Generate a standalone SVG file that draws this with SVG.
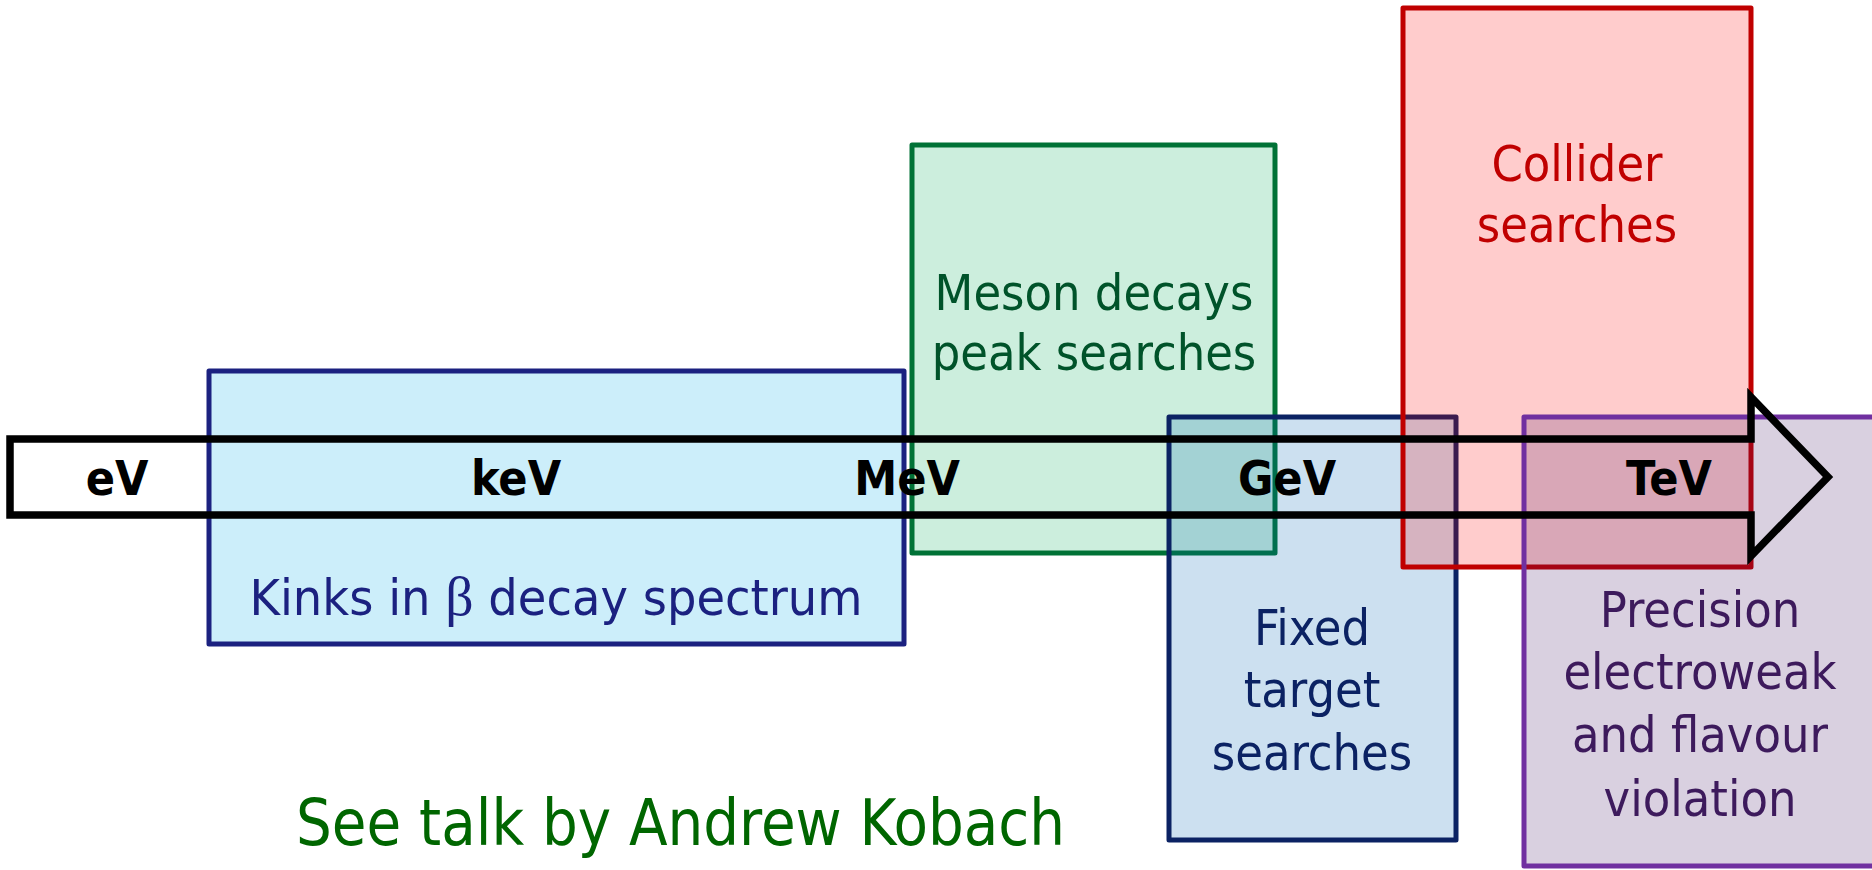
<svg xmlns="http://www.w3.org/2000/svg" width="1872" height="870" viewBox="0 0 1872 870">
<style>
.box{stroke-width:5;stroke-linejoin:round}
.t{font-family:"DejaVu Sans Condensed","DejaVu Sans",sans-serif;font-size:50px;text-anchor:middle}
.ax{font-family:"DejaVu Sans Condensed","DejaVu Sans",sans-serif;font-size:48px;font-weight:bold;text-anchor:middle;fill:#000}
</style>
<rect width="1872" height="870" fill="#fff"/>
<g id="kinks">
<rect class="box" x="209" y="371" width="695" height="273" fill="rgba(0,170,230,0.2)" stroke="#1B2180"/>
<text class="t" x="556" y="615" fill="#1B2180" textLength="613" lengthAdjust="spacingAndGlyphs">Kinks in <tspan font-family="Liberation Serif,serif" font-size="54">β</tspan> decay spectrum</text>
</g>
<g id="meson">
<rect class="box" x="912" y="145" width="363" height="408" fill="rgba(0,170,85,0.2)" stroke="#007236"/>
<text class="t" x="1094" y="310" fill="#00532A">Meson decays</text>
<text class="t" x="1094" y="370" fill="#00532A">peak searches</text>
</g>
<g id="fixed">
<rect class="box" x="1169" y="417" width="287" height="423" fill="rgba(0,100,180,0.2)" stroke="#0B2263"/>
<text class="t" x="1312" y="645" fill="#0B2263">Fixed</text>
<text class="t" x="1312" y="707" fill="#0B2263">target</text>
<text class="t" x="1312" y="770" fill="#0B2263">searches</text>
</g>
<g id="collider">
<rect class="box" x="1403" y="8" width="348" height="559" fill="rgba(255,0,0,0.2)" stroke="#C00000"/>
<text class="t" x="1577" y="181" fill="#C00000">Collider</text>
<text class="t" x="1577" y="242" fill="#C00000">searches</text>
</g>
<g id="precision">
<rect class="box" x="1524" y="417" width="400" height="449" fill="rgba(65,20,100,0.2)" stroke="#7030A0"/>
<text class="t" x="1700" y="627" fill="#3D1A5C">Precision</text>
<text class="t" x="1700" y="689" fill="#3D1A5C">electroweak</text>
<text class="t" x="1700" y="752" fill="#3D1A5C">and flavour</text>
<text class="t" x="1700" y="816" fill="#3D1A5C">violation</text>
</g>
<g id="connectors">
<polygon points="10,439 1751,439 1751,397 1828,477 1751,556 1751,515 10,515" fill="none" stroke="#000" stroke-width="7.5" stroke-linejoin="miter"/>
</g>
<g id="axis-labels">
<text class="ax" x="117" y="495">eV</text>
<text class="ax" x="516" y="495">keV</text>
<text class="ax" x="907" y="495">MeV</text>
<text class="ax" x="1287" y="495">GeV</text>
<text class="ax" x="1669" y="495">TeV</text>
</g>
<g id="note">
<text x="296" y="845" font-family="DejaVu Sans Condensed,DejaVu Sans,sans-serif" font-size="64" fill="#006600" textLength="769" lengthAdjust="spacingAndGlyphs">See talk by Andrew Kobach</text>
</g>
</svg>
